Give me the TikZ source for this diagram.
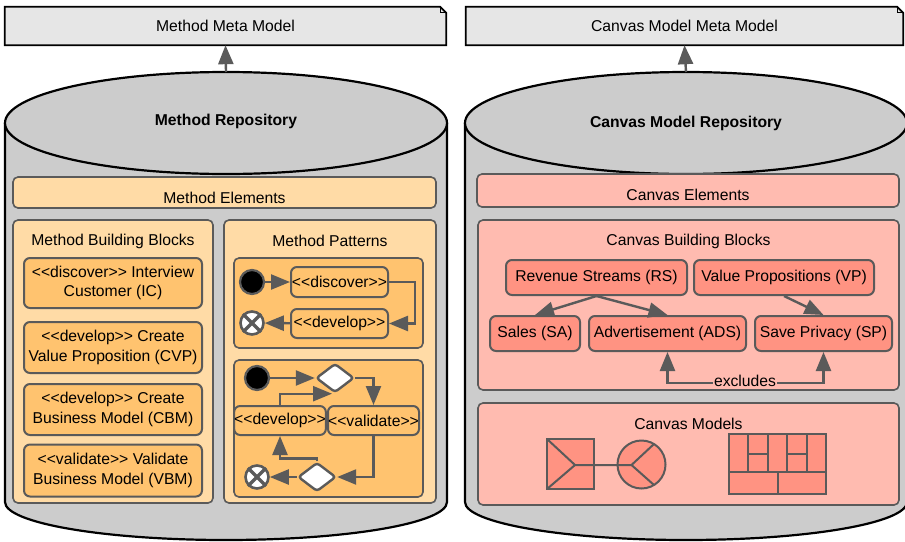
\documentclass[tikz,border=0pt]{standalone}
\usepackage{fontspec}
\setmainfont{Liberation Sans}[Ligatures=TeXOff]
\usetikzlibrary{arrows.meta,shapes.geometric}

\definecolor{cylgray}{HTML}{CCCCCC}
\definecolor{metagray}{HTML}{E6E6E6}
\definecolor{mpale}{HTML}{FFDBA6}
\definecolor{morange}{HTML}{FFC36F}
\definecolor{cpale}{HTML}{FFBBB0}
\definecolor{csalmon}{HTML}{FF9382}
\definecolor{edgegray}{HTML}{5A5A5A}

\newcommand{\txtsize}{\fontsize{15.7}{19.5}\selectfont}

\tikzset{
  base/.style={font=\txtsize, text=black},
  heading/.style={base, font=\txtsize\bfseries},
  metanote/.style={base, minimum width=441, minimum height=38, inner sep=0},
  cylbody/.style={fill=cylgray},
  cylline/.style={draw=black, line width=2.2pt},
  panel/.style={draw=edgegray, line width=1.6pt, rounded corners=5pt, inner sep=0},
  mpanel/.style={panel, fill=mpale},
  cpanel/.style={panel, fill=cpale},
  mitem/.style={base, draw=edgegray, line width=2pt, rounded corners=6pt, fill=morange,
    align=center, inner sep=1pt, minimum width=178},
  actbox/.style={base, draw=edgegray, line width=2pt, rounded corners=6pt, fill=morange,
    inner sep=0pt, minimum height=30},
  citem/.style={base, draw=edgegray, line width=2pt, rounded corners=6pt, fill=csalmon,
    inner sep=1pt, minimum height=35},
  conn/.style={draw=edgegray, line width=2.4pt, -{Triangle[length=19pt,width=15pt]}},
  bothconn/.style={draw=edgegray, line width=2.4pt,
    {Triangle[length=19pt,width=15pt]}-{Triangle[length=19pt,width=15pt]}},
  startnode/.style={circle, fill=black, draw=edgegray, line width=2.2pt, minimum size=24, inner sep=0},
  endnode/.style={circle, fill=white, draw=edgegray, line width=2.6pt, minimum size=23, inner sep=0},
  crossline/.style={edgegray, line width=3.4pt},
  decision/.style={diamond, aspect=1.33, fill=white, draw=edgegray, line width=2.4pt,
    rounded corners=3pt, minimum width=38, minimum height=29, inner sep=0},
  icon/.style={fill=csalmon, draw=edgegray, line width=2pt},
  iconline/.style={draw=edgegray, line width=2pt},
}

\begin{document}
\begin{tikzpicture}[x=1pt, y=-1pt]
\clip (0,0) rectangle (905,541);
\fill[white] (0,0) rectangle (905,541);

% ---------- repositories drawn as cylinders ----------
\foreach \cx in {226,686} {
  \fill[cylbody] (\cx-221,123) -- (\cx-221,502)
    arc[start angle=180, end angle=0, x radius=221, y radius=38] -- (\cx+221,123) -- cycle;
  \draw[cylline] (\cx-221,123) -- (\cx-221,502)
    arc[start angle=180, end angle=0, x radius=221, y radius=38] -- (\cx+221,123);
  \draw[cylline, fill=cylgray] (\cx,123) ellipse[x radius=221, y radius=51];
}
\coordinate (lreptop) at (226,72);
\coordinate (rreptop) at (686,72);
\node[heading] (lrep) at (226,121) {Method Repository};
\node[heading] (rrep) at (686,123) {Canvas Model Repository};

% ---------- meta models ----------
\node[metanote] (mmeta) at (225.5,26) {Method Meta Model};
\node[metanote, minimum width=437] (cmeta) at (684.5,26) {Canvas Model Meta Model};
\foreach \n in {mmeta,cmeta} {
  \draw[fill=metagray, line width=1.8pt, line join=miter]
    (\n.south west) -- (\n.north west) -- ([xshift=-6pt]\n.north east)
    -- ([yshift=-6pt]\n.north east) -- (\n.south east) -- cycle;
  \draw[line width=1.2pt] ([xshift=-6pt]\n.north east) -- ([xshift=-6pt,yshift=-6pt]\n.north east)
    -- ([yshift=-6pt]\n.north east);
}
\node[base] at (mmeta) {Method Meta Model};
\node[base] at (cmeta) {Canvas Model Meta Model};
\draw[conn] (lreptop) -- (mmeta.south);
\draw[conn] (rreptop) -- (cmeta.south);

% ---------- method side ----------
\node[mpanel, minimum width=423, minimum height=31] (melem) at (224.5,192.5) {};
\node[base] (melemtxt) at (224.5,198) {Method Elements};

\node[mpanel, minimum width=200, minimum height=283] (mbb) at (113,361.5) {};
\node[base] (mbbtxt) at (113,241) {Method Building Blocks};
\node[mitem, minimum height=50] (ic)  at (113,283)   {<<discover>> Interview\\Customer (IC)};
\node[mitem, minimum height=51] (cvp) at (113,347.5) {<<develop>> Create\\Value Proposition (CVP)};
\node[mitem, minimum height=51] (cbm) at (113,409.5) {<<develop>> Create\\Business Model (CBM)};
\node[mitem, minimum height=52] (vbm) at (113,470.5) {<<validate>> Validate\\Business Model (VBM)};

\node[mpanel, minimum width=212, minimum height=283] (mpat) at (330,361.5) {};
\node[base] (mpattxt) at (330,241) {Method Patterns};

% first pattern: discover then develop
\node[panel, fill=morange, minimum width=189, minimum height=90] (pat1) at (328.5,303) {};
\node[startnode] (p1s) at (252,282) {};
\node[actbox, minimum width=97] (p1disc) at (339.5,282) {<<discover>>};
\node[actbox, minimum width=97, minimum height=29] (p1dev) at (339.5,323.5) {<<develop>>};
\node[endnode] (p1e) at (252,323) {};
\draw[crossline] (p1e.45) -- (p1e.225) (p1e.135) -- (p1e.315);
\draw[conn] (p1s) -- (p1disc);
\draw[conn] (p1disc.east) -- ++(26,0) |- (p1dev.east);
\draw[conn] (p1dev) -- (p1e);

% second pattern: develop and validate loop
\node[panel, fill=morange, minimum width=189, minimum height=137] (pat2) at (328.5,428.5) {};
\node[startnode] (p2s) at (257,378) {};
\node[decision] (p2d1) at (335,378) {};
\node[actbox, minimum width=90, minimum height=29] (p2dev) at (280,420.5) {<<develop>>};
\node[actbox, minimum width=91, minimum height=29] (p2val) at (373.5,420.5) {<<validate>>};
\node[decision] (p2d2) at (317,477) {};
\node[endnode] (p2e) at (257,477) {};
\draw[crossline] (p2e.45) -- (p2e.225) (p2e.135) -- (p2e.315);
\draw[conn] (p2s) -- (p2d1);
\draw[conn] (p2d1.east) -| (p2val.north);
\draw[conn] (p2dev.north) |- ([xshift=-3pt]p2d1.south);
\draw[conn] (p2val.south) |- (p2d2.east);
\draw[conn] (p2d2.north) -- ++(0,-3) -| (p2dev.south);
\draw[conn] (p2d2) -- (p2e);

% ---------- canvas side ----------
\node[cpanel, minimum width=422, minimum height=33] (celem) at (688,190.5) {};
\node[base] (celemtxt) at (688,195) {Canvas Elements};

\node[cpanel, minimum width=421, minimum height=170] (cbb) at (688.5,305) {};
\node[base] (cbbtxt) at (688.5,241) {Canvas Building Blocks};
\node[citem, minimum width=181] (rs)  at (596.5,277.5) {Revenue Streams (RS)};
\node[citem, minimum width=180] (vp)  at (784,277.5)   {Value Propositions (VP)};
\node[citem, minimum width=90]  (sa)  at (535,333.5)   {Sales (SA)};
\node[citem, minimum width=157] (ads) at (667.5,333.5) {Advertisement (ADS)};
\node[citem, minimum width=137] (sp)  at (823.5,333.5) {Save Privacy (SP)};
\draw[conn] (rs.south) -- (sa.north);
\draw[conn] (rs.south) -- (ads.north);
\draw[conn] (vp.south) -- (sp.north);
\coordinate (excl) at (745,383);
\draw[bothconn] (ads.south) |- (excl) -| (sp.south);
\node[base, fill=cpale, inner sep=1pt] (excltxt) at (745,381) {excludes};

\node[cpanel, minimum width=421, minimum height=102] (cmod) at (688.5,454) {};
\node[base] (cmodtxt) at (688.5,424) {Canvas Models};

% value proposition canvas icon
\draw[icon] (547,439) rectangle (594,489);
\draw[iconline] (547,439) -- (575,465) -- (547,489) (575,465) -- (594,465) -- (617.5,465);
\draw[icon] (641.5,464.5) circle[radius=24];
\draw[iconline] (617.5,465) -- (631.5,465) -- (654,444) (631.5,465) -- (654,485);

% business model canvas icon
\draw[icon] (729,434) rectangle (826,494);
\draw[iconline] (729,472) -- (826,472)
  (748.4,434) -- (748.4,472) (767.8,434) -- (767.8,472)
  (787.2,434) -- (787.2,472) (806.6,434) -- (806.6,472)
  (748.4,454) -- (767.8,454) (787.2,454) -- (806.6,454)
  (777.5,472) -- (777.5,494);
\end{tikzpicture}
\end{document}
